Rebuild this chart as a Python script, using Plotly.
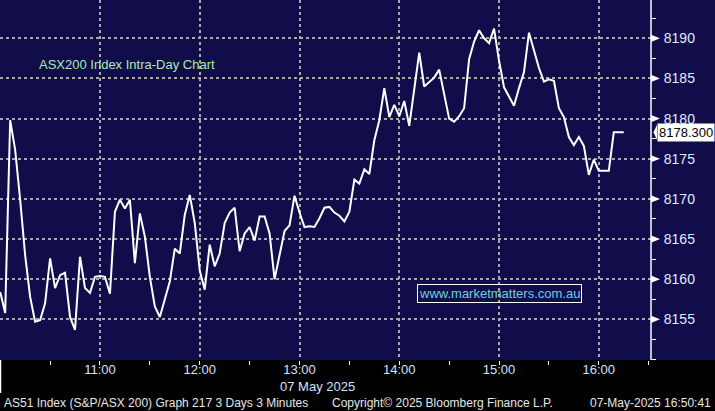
import plotly.graph_objects as go
import pandas as pd

# ASX200 3-minute closes, 07 May 2025, from 10:00
values = [
    8158.4, 8155.8, 8179.8, 8176.1, 8169.9, 8163.0, 8157.8, 8154.7, 8154.9, 8157.0,
    8162.6, 8158.9, 8160.5, 8160.8, 8155.3, 8153.7, 8162.8, 8158.9, 8158.3, 8160.3,
    8160.4, 8160.3, 8158.2, 8168.4, 8169.9, 8168.8, 8169.9, 8162.0, 8168.2, 8165.3,
    8160.3, 8156.6, 8155.3, 8157.4, 8159.7, 8163.8, 8163.2, 8168.0, 8170.5, 8167.0,
    8161.1, 8158.7, 8164.3, 8161.6, 8163.2, 8167.0, 8168.3, 8168.9, 8163.5, 8165.7,
    8166.5, 8164.8, 8167.8, 8167.8, 8165.7, 8160.0, 8162.8, 8166.0, 8166.7, 8170.4,
    8168.3, 8166.5, 8166.6, 8166.5, 8167.6, 8168.9, 8169.0, 8168.3, 8167.9, 8167.2,
    8168.4, 8172.4, 8171.9, 8173.7, 8173.1, 8177.3, 8179.8, 8183.8, 8180.2, 8181.7,
    8180.3, 8182.2, 8179.1, 8184.0, 8188.2, 8184.0, 8184.6, 8185.1, 8186.1, 8182.9,
    8180.0, 8179.6, 8180.3, 8181.3, 8187.4, 8189.6, 8191.0, 8190.0, 8189.4, 8191.2,
    8187.2, 8183.9, 8182.7, 8181.6, 8183.8, 8185.8, 8190.7, 8188.6, 8186.3, 8184.6,
    8184.9, 8184.7, 8181.3, 8180.2, 8177.7, 8176.7, 8177.7, 8176.6, 8173.0, 8174.9,
    8173.5, 8173.5, 8173.5, 8178.3, 8178.3, 8178.3,
]
times = pd.date_range("2025-05-07 10:00", periods=len(values), freq="3min")

y_ticks = [8155, 8160, 8165, 8170, 8175, 8180, 8185, 8190]
x_ticks = ["2025-05-07 11:00", "2025-05-07 12:00", "2025-05-07 13:00",
           "2025-05-07 14:00", "2025-05-07 15:00", "2025-05-07 16:00"]
x_tick_text = ["11:00", "12:00", "13:00", "14:00", "15:00", "16:00"]
last_price = values[-1]

NAVY = "#100d4a"
FONT = "Liberation Sans"
PLOT_W = 651.0
PLOT_H = 360.0

fig = go.Figure()
fig.add_trace(go.Scatter(x=times, y=values, mode="lines",
                         line=dict(color="white", width=2), hoverinfo="skip"))

shapes = []
# navy background behind right-hand axis labels
shapes.append(dict(type="rect", xref="paper", yref="paper", x0=1, x1=1 + 70 / PLOT_W,
                   y0=0, y1=1, fillcolor=NAVY, line=dict(width=0), layer="below"))
# right axis line
shapes.append(dict(type="line", xref="paper", yref="paper", x0=1, x1=1, y0=0, y1=1,
                   line=dict(color="white", width=1.5)))
# left separator below plot
shapes.append(dict(type="line", xref="paper", yref="paper", x0=0.5 / PLOT_W, x1=0.5 / PLOT_W,
                   y0=0, y1=-33 / PLOT_H, line=dict(color="white", width=1.5)))
# triangle markers at major y ticks
for v in y_ticks:
    shapes.append(dict(type="path", xref="paper", yref="y",
                       path=f"M 1 {v - 0.45} L {1 + 9 / PLOT_W} {v} L 1 {v + 0.45} Z",
                       fillcolor="white", line=dict(width=0)))
# pointer for last price label
shapes.append(dict(type="path", xref="paper", yref="y",
                   path=(f"M {1 + 6 / PLOT_W} {last_price - 0.95} "
                         f"L {1 + 2.5 / PLOT_W} {last_price} "
                         f"L {1 + 6 / PLOT_W} {last_price + 0.95} Z"),
                   fillcolor="white", line=dict(width=0)))

annotations = [
    dict(xref="paper", yref="paper", x=37 / PLOT_W, y=(PLOT_H - 64) / PLOT_H,
         xanchor="left", yanchor="middle", showarrow=False,
         text="ASX200 Index Intra-Day Chart",
         font=dict(family=FONT, size=13, color="#a4f0a4")),
    dict(xref="paper", yref="paper", x=499.5 / PLOT_W, y=(PLOT_H - 293.5) / PLOT_H,
         xanchor="center", yanchor="middle", showarrow=False,
         text="www.marketmatters.com.au", bordercolor="white", borderwidth=1, borderpad=1,
         font=dict(family=FONT, size=13, color="#6ccfe0")),
    dict(xref="paper", yref="y", x=1 + 5.5 / PLOT_W, y=last_price,
         xanchor="left", yanchor="middle", showarrow=False,
         text=f"{last_price:.3f}", bgcolor="white", borderpad=1,
         font=dict(family=FONT, size=13, color="black")),
    dict(xref="paper", yref="paper", x=317 / PLOT_W, y=(PLOT_H - 386) / PLOT_H,
         xanchor="center", yanchor="middle", showarrow=False,
         text="07 May 2025", font=dict(family=FONT, size=13, color="#d4e4ff")),
    dict(xref="paper", yref="paper", x=2 / PLOT_W, y=(PLOT_H - 403) / PLOT_H,
         xanchor="left", yanchor="middle", showarrow=False,
         text="AS51 Index (S&P/ASX 200) Graph 217 3 Days 3 Minutes",
         font=dict(family=FONT, size=12, color="#e6e6e6")),
    dict(xref="paper", yref="paper", x=442 / PLOT_W, y=(PLOT_H - 403) / PLOT_H,
         xanchor="center", yanchor="middle", showarrow=False,
         text="Copyright\u00a9 2025 Bloomberg Finance L.P.",
         font=dict(family=FONT, size=12, color="#e6e6e6")),
    dict(xref="paper", yref="paper", x=713 / PLOT_W, y=(PLOT_H - 403) / PLOT_H,
         xanchor="right", yanchor="middle", showarrow=False,
         text="07-May-2025 16:50:41",
         font=dict(family=FONT, size=12, color="#e6e6e6")),
]

fig.update_layout(
    width=715, height=411,
    margin=dict(l=0, r=64, t=0, b=51, pad=0, autoexpand=False),
    paper_bgcolor="black", plot_bgcolor=NAVY,
    showlegend=False,
    shapes=shapes, annotations=annotations,
    font=dict(family=FONT),
)
fig.update_xaxes(
    range=["2025-05-07 09:59:53", "2025-05-07 16:31:23"],
    tickvals=x_ticks, ticktext=x_tick_text,
    ticks="",
    tickfont=dict(family=FONT, size=13, color="#d4e4ff"),
    showgrid=True, gridcolor="#a8a8a8", griddash="dot", gridwidth=1.5,
    minor=dict(dtick=30 * 60 * 1000, tick0="2025-05-07 10:30", ticks="outside",
               ticklen=4, tickcolor="white", showgrid=False),
    showline=False, zeroline=False,
)
fig.update_yaxes(
    range=[8149.94, 8194.77], side="right",
    tickvals=y_ticks, ticks="outside", ticklen=9, tickcolor=NAVY,
    tickfont=dict(family=FONT, size=14, color="#e2eaff"),
    showgrid=True, gridcolor="#a8a8a8", griddash="dot", gridwidth=1.5,
    minor=dict(dtick=2.5, tick0=8150, ticks="outside", ticklen=4, tickcolor="white",
               showgrid=False),
    showline=False, zeroline=False,
)

fig.write_html("out.html", config={"displayModeBar": False},
               post_script="document.body.style.margin='0px';"
                           "document.body.style.background='black';")
